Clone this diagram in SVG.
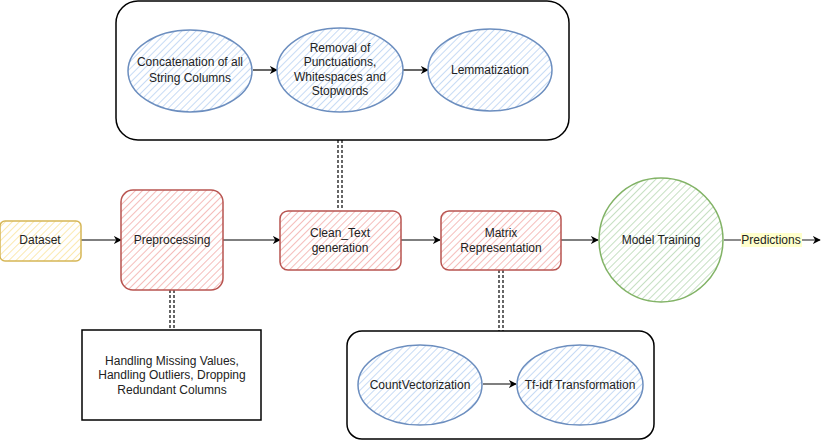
<svg xmlns="http://www.w3.org/2000/svg" width="829" height="441" viewBox="0 0 829 441">
<defs>
<pattern id="hb" width="5" height="5" patternUnits="userSpaceOnUse" patternTransform="rotate(45)"><rect width="5" height="5" fill="#fff"/><line x1="0" y1="0" x2="0" y2="5" stroke="#c7dbf5" stroke-width="2"/></pattern>
<pattern id="hr" width="5" height="5" patternUnits="userSpaceOnUse" patternTransform="rotate(45)"><rect width="5" height="5" fill="#fff"/><line x1="0" y1="0" x2="0" y2="5" stroke="#f5bdbb" stroke-width="2"/></pattern>
<pattern id="hg" width="5" height="5" patternUnits="userSpaceOnUse" patternTransform="rotate(45)"><rect width="5" height="5" fill="#fff"/><line x1="0" y1="0" x2="0" y2="5" stroke="#c6e0c3" stroke-width="2"/></pattern>
<pattern id="hy" width="5" height="5" patternUnits="userSpaceOnUse" patternTransform="rotate(45)"><rect width="5" height="5" fill="#fff"/><line x1="0" y1="0" x2="0" y2="5" stroke="#fbe9b0" stroke-width="2"/></pattern>
<marker id="ah" viewBox="0 0 10 10" refX="9" refY="5" markerWidth="8" markerHeight="8" orient="auto" markerUnits="userSpaceOnUse"><path d="M0,0 L10,5 L0,10 L3,5 Z" fill="#000"/></marker>
<marker id="ahg" viewBox="0 0 10 10" refX="9" refY="5" markerWidth="8" markerHeight="8" orient="auto" markerUnits="userSpaceOnUse"><path d="M0,0 L10,5 L0,10 L3,5 Z" fill="#000"/></marker>
</defs>
<style>
text{font-family:"Liberation Sans",Arial,sans-serif;font-size:12px;fill:#222;text-anchor:middle}
.blue{fill:url(#hb);stroke:#6c8ebf;stroke-width:1.5}
.red{fill:url(#hr);stroke:#b85450;stroke-width:1.5}
.green{fill:url(#hg);stroke:#82b366;stroke-width:1.5}
.yel{fill:url(#hy);stroke:#d6b656;stroke-width:1.5}
.cont{fill:#fff;stroke:#000;stroke-width:1.5}
.edge{fill:none;stroke:#000;stroke-width:1.2;marker-end:url(#ah)}
.dash{fill:none;stroke:#000;stroke-width:1.2;stroke-dasharray:3 2}
</style>
<g id="top-container"><rect class="cont" x="116" y="1" width="453" height="139" rx="22"/></g>
<g id="bottom-container"><rect class="cont" x="347" y="331" width="307" height="108" rx="15"/></g>
<g id="connectors">
<line class="edge" x1="253" y1="70" x2="277" y2="70"/>
<line class="edge" x1="403" y1="70" x2="428" y2="70"/>
<line class="edge" x1="81" y1="240" x2="121" y2="240"/>
<line class="edge" x1="223" y1="240" x2="280" y2="240"/>
<line class="edge" x1="401" y1="240" x2="440" y2="240"/>
<line class="edge" x1="561" y1="240" x2="598" y2="240"/>
<line x1="724" y1="240" x2="741" y2="240" stroke="#666" stroke-width="1.5"/>
<line x1="801" y1="240" x2="820" y2="240" stroke="#666" stroke-width="1.5" marker-end="url(#ahg)"/>
<line class="edge" x1="483" y1="384" x2="516" y2="384"/>
<line class="dash" x1="338" y1="140" x2="338" y2="210"/>
<line class="dash" x1="342" y1="140" x2="342" y2="210"/>
<line class="dash" x1="170" y1="290" x2="170" y2="330"/>
<line class="dash" x1="174" y1="290" x2="174" y2="330"/>
<line class="dash" x1="499" y1="270" x2="499" y2="331"/>
<line class="dash" x1="503" y1="270" x2="503" y2="331"/>
<rect x="741" y="233" width="61" height="14" fill="#ffffcc"/>
<text x="771" y="244" font-size="11">Predictions</text>
</g>
<g id="concat"><ellipse class="blue" cx="190" cy="71" rx="62" ry="41"/><text x="190" y="66">Concatenation of all</text><text x="190" y="82">String Columns</text></g>
<g id="removal"><ellipse class="blue" cx="340" cy="70" rx="63" ry="42"/><text x="340" y="52">Removal of</text><text x="340" y="66">Punctuations,</text><text x="340" y="81">Whitespaces and</text><text x="340" y="95">Stopwords</text></g>
<g id="lemma"><ellipse class="blue" cx="490" cy="70" rx="62" ry="41"/><text x="490" y="74">Lemmatization</text></g>
<g id="dataset"><rect class="yel" x="0" y="221" width="81" height="40" rx="5"/><text x="40" y="244">Dataset</text></g>
<g id="preprocessing"><rect class="red" x="121" y="190" width="102" height="100" rx="12"/><text x="172" y="244">Preprocessing</text></g>
<g id="clean-text"><rect class="red" x="280" y="211" width="121" height="59" rx="8"/><text x="340" y="237">Clean_Text</text><text x="340" y="252">generation</text></g>
<g id="matrix"><rect class="red" x="441" y="211" width="120" height="59" rx="8"/><text x="501" y="237">Matrix</text><text x="501" y="252">Representation</text></g>
<g id="model-training"><circle class="green" cx="661" cy="240" r="62"/><text x="661" y="244">Model Training</text></g>
<g id="handling"><rect x="82" y="330" width="179" height="90" fill="#fff" stroke="#000" stroke-width="1.5"/><text x="172" y="365">Handling Missing Values,</text><text x="172" y="379">Handling Outliers, Dropping</text><text x="172" y="394">Redundant Columns</text></g>
<g id="countvec"><ellipse class="blue" cx="420" cy="385" rx="62" ry="40"/><text x="420" y="389">CountVectorization</text></g>
<g id="tfidf"><ellipse class="blue" cx="580" cy="385" rx="63" ry="40"/><text x="580" y="389">Tf-idf Transformation</text></g>
</svg>
